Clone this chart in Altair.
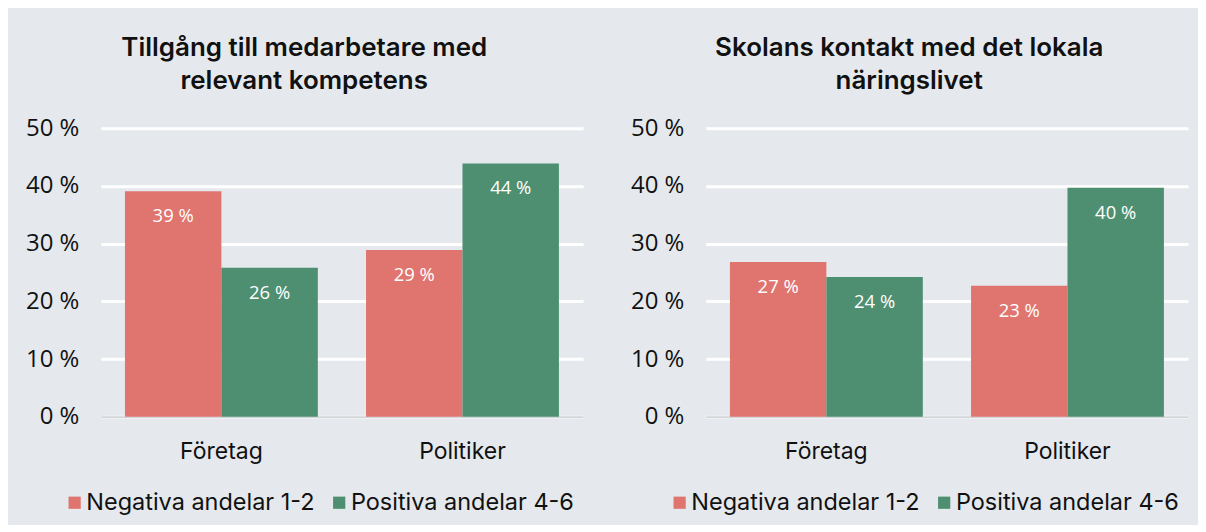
import altair as alt
import pandas as pd

groups = ["Företag", "Politiker"]
series = ["Negativa andelar 1-2", "Positiva andelar 4-6"]
title_left = ["Tillgång till medarbetare med", "relevant kompetens"]
title_right = ["Skolans kontakt med det lokala", "näringslivet"]
kompetens_neg = [39.1, 28.9]
kompetens_pos = [25.8, 43.9]
kontakt_neg = [26.8, 22.7]
kontakt_pos = [24.2, 39.7]
y_ticks = [0, 10, 20, 30, 40, 50]
colors = ["#E07570", "#4E8F71"]

BG = "#E5E9ED"
TXT = "#111111"


def make_df(neg, pos):
    rows = []
    for i, g in enumerate(groups):
        rows.append({"grupp": g, "serie": series[0], "varde": neg[i]})
        rows.append({"grupp": g, "serie": series[1], "varde": pos[i]})
    df = pd.DataFrame(rows)
    df["etikett"] = df["varde"].round().astype(int).astype(str) + " %"
    return df


def panel(df, title):
    base = alt.Chart(df).encode(
        x=alt.X(
            "grupp:N",
            sort=groups,
            title=None,
            scale=alt.Scale(paddingInner=0.2, paddingOuter=0.1),
            axis=alt.Axis(
                labelAngle=0,
                labelFontSize=23,
                labelPadding=24,
                labelFont="Inter",
                labelColor=TXT,
                ticks=False,
                domain=True,
                domainColor="#D2D5D8",
                domainWidth=2,
                grid=False,
            ),
        ),
        xOffset=alt.XOffset("serie:N", sort=series),
        y=alt.Y(
            "varde:Q",
            title=None,
            scale=alt.Scale(domain=[0, 50], nice=False),
            axis=alt.Axis(
                values=y_ticks,
                labelExpr="datum.value + ' %'",
                labelFontSize=24,
                labelFont="Open Sans",
                labelColor=TXT,
                labelPadding=22,
                ticks=False,
                domain=False,
                grid=True,
                gridColor="#FFFFFF",
                gridWidth=3,
            ),
        ),
    )
    bars = base.mark_bar().encode(
        color=alt.Color(
            "serie:N",
            sort=series,
            scale=alt.Scale(domain=series, range=colors),
            legend=alt.Legend(
                title=None,
                orient="none",
                legendX=-38,
                legendY=363,
                direction="horizontal",
                symbolType="square",
                symbolSize=150,
                symbolStrokeWidth=0,
                labelFontSize=23.5,
                labelFont="Inter",
                labelColor=TXT,
                labelOffset=0,
                labelLimit=400,
                columnPadding=12,
            ),
        )
    )
    text = base.mark_text(
        color="white", fontSize=18.5, font="Open Sans", baseline="middle", dy=25
    ).encode(text="etikett:N")
    return alt.layer(bars, text).properties(
        width=483,
        height=289,
        title=alt.TitleParams(
            title,
            fontSize=26,
            font="Inter",
            fontWeight=600,
            color=TXT,
            lineHeight=33,
            anchor="middle",
            frame="bounds",
            offset=22,
        ),
    )


left = panel(make_df(kompetens_neg, kompetens_pos), title_left)
right = panel(make_df(kontakt_neg, kontakt_pos), title_right)

chart = (
    alt.hconcat(left, right, spacing=47)
    .resolve_legend(color="independent")
    .properties(
        background=BG,
        padding={"left": 17, "top": 27, "right": 10, "bottom": 10},
    )
    .configure_view(stroke=None)
)

chart.save("out.html", embed_options={"renderer": "svg", "actions": False})
